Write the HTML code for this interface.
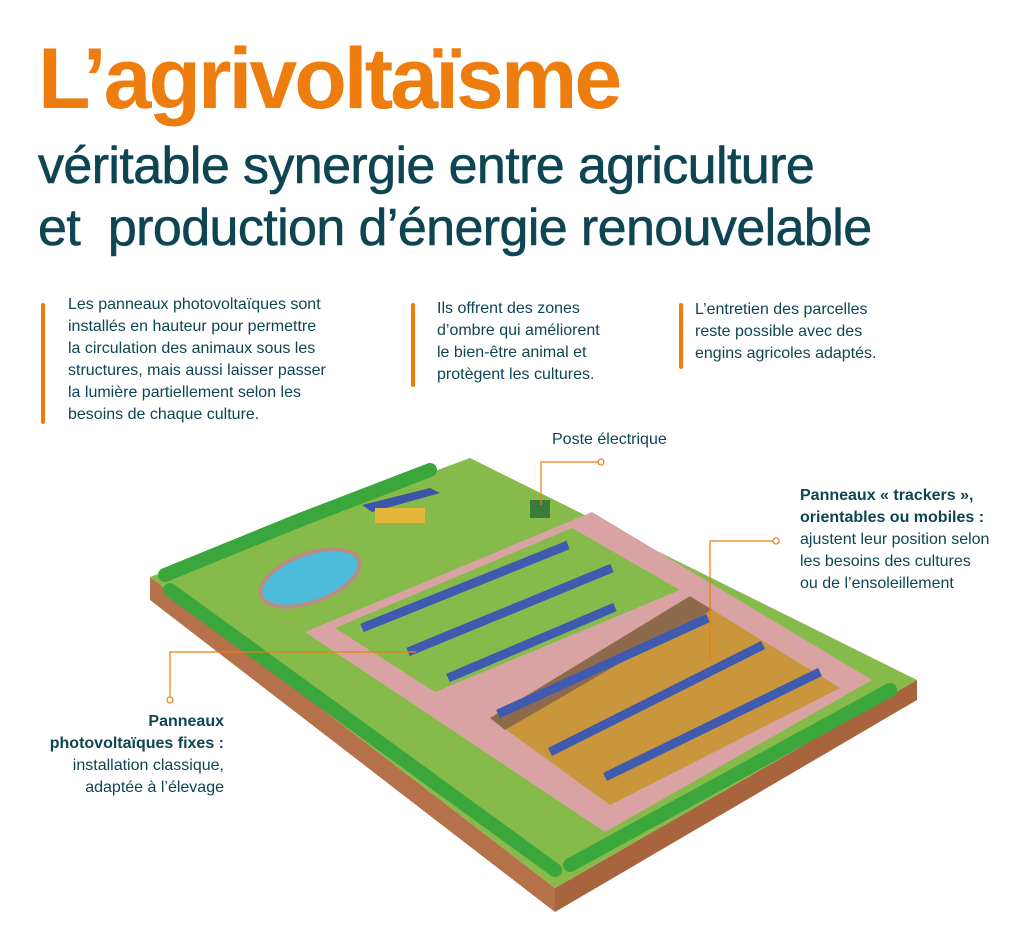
<!DOCTYPE html>
<html><head><meta charset="utf-8"><style>
body{margin:0;width:1024px;height:941px;background:#fff;position:relative;overflow:hidden;font-family:"Liberation Sans",sans-serif;color:#0e4553}
.t{position:absolute;white-space:nowrap}
h1{position:absolute;left:38px;top:30px;margin:0;font-size:86px;font-weight:bold;color:#ee7d0f;letter-spacing:-3px}
.sub{position:absolute;left:38px;font-size:52px;letter-spacing:-0.6px;color:#0e4553;-webkit-text-stroke:0.6px #0e4553}
.p{position:absolute;font-size:16px;line-height:22px;color:#0e4553}
.bar{position:absolute;width:4px;background:#ee7d0f;border-radius:2px}
</style></head><body>
<h1>L’agrivoltaïsme</h1>
<div class="sub t" style="top:136px">véritable synergie entre agriculture</div>
<div class="sub t" style="top:198px">et&nbsp; production d’énergie renouvelable</div>

<div class="bar" style="left:41px;top:303px;height:121px"></div>
<div class="p t" style="left:68px;top:294px">Les panneaux photovoltaïques sont<br>installés en hauteur pour permettre<br>la circulation des animaux sous les<br>structures, mais aussi laisser passer<br>la lumière partiellement selon les<br>besoins de chaque culture.</div>
<div class="bar" style="left:411px;top:303px;height:84px"></div>
<div class="p t" style="left:437px;top:298px">Ils offrent des zones<br>d’ombre qui améliorent<br>le bien-être animal et<br>protègent les cultures.</div>
<div class="bar" style="left:679px;top:303px;height:66px"></div>
<div class="p t" style="left:695px;top:299px">L’entretien des parcelles<br>reste possible avec des<br>engins agricoles adaptés.</div>

<div class="p t" style="left:552px;top:429px">Poste électrique</div>
<div class="p t" style="left:800px;top:485px"><b>Panneaux « trackers »,<br>orientables ou mobiles :</b><br>ajustent leur position selon<br>les besoins des cultures<br>ou de l’ensoleillement</div>
<div class="p t" style="left:20px;top:711px;width:204px;text-align:right"><b>Panneaux<br>photovoltaïques fixes :</b><br>installation classique,<br>adaptée à l’élevage</div>

<svg width="1024" height="941" style="position:absolute;left:0;top:0">
<polygon points="150,577 555,888 555,912 150,600" fill="#b5714a"/>
<polygon points="555,888 917,680 917,700 555,912" fill="#a8643d"/>
<polygon points="150,577 470,458 917,680 555,888" fill="#86bb4c"/>
<g stroke="#3aa63c" stroke-width="14" stroke-linecap="round" fill="none">
<polyline points="165,575 300,520 430,470"/>
<polyline points="170,590 555,870"/>
<polyline points="570,865 890,690"/>
</g>
<polygon points="305,632 592,512 872,680 605,832" fill="#d9a3a3"/>
<polygon points="335,628 572,528 680,590 435,692" fill="#86bb4c"/>
<polygon points="490,718 700,590 850,683 610,805" fill="#c9963c"/>
<polygon points="490,718 700,590 720,605 505,730" fill="#8e6a4c"/>
<polygon points="680,590 700,590 850,683 840,688" fill="#d9a3a3"/>
<ellipse cx="310" cy="578" rx="52" ry="24" fill="#4cbcda" stroke="#b88e80" stroke-width="4" transform="rotate(-20 310 578)"/>
<polygon points="362,505 430,488 440,493 372,512" fill="#3b55a8"/>
<rect x="375" y="508" width="50" height="15" fill="#e3b83a"/>
<g stroke="#3f5bb0" stroke-width="9" stroke-linecap="butt">
<line x1="362" y1="628" x2="568" y2="545"/>
<line x1="408" y1="652" x2="612" y2="568"/>
<line x1="448" y1="678" x2="615" y2="607"/>
<line x1="498" y1="714" x2="708" y2="618"/>
<line x1="550" y1="752" x2="763" y2="645"/>
<line x1="605" y1="777" x2="820" y2="672"/>
</g>
<rect x="530" y="500" width="20" height="18" fill="#3c7a3a"/>
<g stroke="#ee7d0f" stroke-width="1.2" fill="none">
<polyline points="541,505 541,462 599,462"/>
<circle cx="601" cy="462" r="3" fill="#fff"/>
<polyline points="710,660 710,541 774,541"/>
<circle cx="776" cy="541" r="3" fill="#fff"/>
<polyline points="416,652 170,652 170,697"/>
<circle cx="170" cy="700" r="3" fill="#fff"/>
</g>
</svg>
</body></html>
